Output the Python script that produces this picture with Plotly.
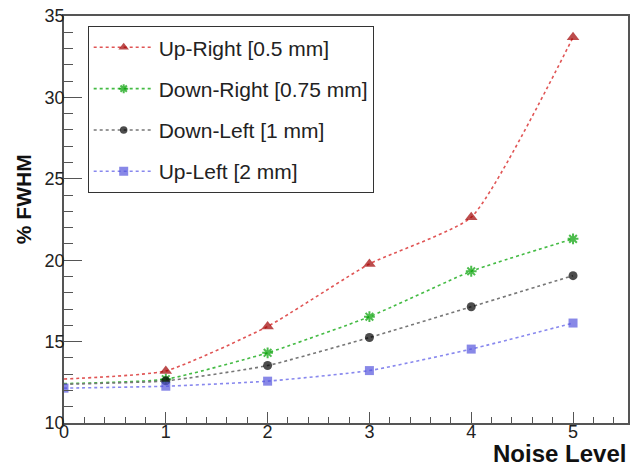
import plotly.graph_objects as go

# Noise level on the x axis
noise = [0, 1, 2, 3, 4, 5]

# % FWHM for each detector quadrant / pitch
up_right = [12.7, 13.2, 15.93, 19.77, 22.64, 33.69]
down_right = [12.42, 12.69, 14.31, 16.53, 19.32, 21.31]
down_left = [12.38, 12.59, 13.53, 15.25, 17.14, 19.05]
up_left = [12.14, 12.26, 12.57, 13.22, 14.54, 16.14]

names = ["Up-Right [0.5 mm]", "Down-Right [0.75 mm]", "Down-Left [1 mm]", "Up-Left [2 mm]"]

series = [
    dict(y=up_right, name=names[0], line="#e05555", marker="#a00000",
         symbol="triangle-up", size=[0, 11, 11, 11, 11, 11]),
    dict(y=down_right, name=names[1], line="#44bb44", marker="#00a000",
         symbol="asterisk-open", size=[0, 9, 9, 9, 9, 9]),
    dict(y=down_left, name=names[2], line="#777777", marker="#000000",
         symbol="circle", size=[0, 9, 9, 9, 9, 9]),
    dict(y=up_left, name=names[3], line="#8888ee", marker="#5555dd",
         symbol="square", size=[9, 9, 9, 9, 9, 9]),
]

fig = go.Figure()
for i, s in enumerate(series):
    fig.add_trace(go.Scatter(
        x=noise, y=s["y"], name=s["name"], mode="lines+markers",
        legendgroup=f"g{i}",
        line=dict(color=s["line"], width=1.6, dash="3px,3px", shape="spline", smoothing=0.5),
        marker=dict(color=s["marker"], symbol=s["symbol"], size=s["size"],
                    line=dict(color=s["marker"], width=2 if s["symbol"] == "asterisk-open" else 0)),
    ))

axis_col = "#555555"
font_fam = "Liberation Sans, Arial, sans-serif"

fig.update_layout(
    width=631, height=463,
    margin=dict(l=64, r=1, t=16, b=40),
    paper_bgcolor="white", plot_bgcolor="white",
    font=dict(family=font_fam, size=18, color="#222222"),
    showlegend=True,
    legend=dict(
        x=0.042, y=0.975, xanchor="left", yanchor="top",
        bordercolor="#333333", borderwidth=1, bgcolor="white",
        font=dict(size=21, color="#222222"),
        tracegroupgap=11, itemwidth=60,
    ),
    xaxis=dict(
        range=[0, 5.54], tickmode="array", tickvals=[0, 1, 2, 3, 4, 5],
        ticks="inside", ticklen=11, tickwidth=1.3, tickcolor=axis_col,
        minor=dict(dtick=0.2, ticks="inside", ticklen=6, tickwidth=1.3, tickcolor=axis_col, showgrid=False),
        showline=True, linecolor=axis_col, linewidth=1.5, mirror=True,
        showgrid=False, zeroline=False, tickfont=dict(size=18),
        ticklabelstandoff=-8,
    ),
    yaxis=dict(
        range=[10, 35], tickmode="array", tickvals=[10, 15, 20, 25, 30, 35],
        ticks="inside", ticklen=18, tickwidth=1.3, tickcolor=axis_col,
        minor=dict(dtick=1, ticks="inside", ticklen=9, tickwidth=1.3, tickcolor=axis_col, showgrid=False),
        showline=True, linecolor=axis_col, linewidth=1.5, mirror=True,
        showgrid=False, zeroline=False, tickfont=dict(size=18),
        ticklabelstandoff=-6,
    ),
    annotations=[
        dict(text="<b>Noise Level</b>", xref="paper", yref="paper", x=1.0, y=0,
             xanchor="right", yanchor="middle", xshift=0, yshift=-30, showarrow=False,
             font=dict(size=24, color="#111111")),
        dict(text="<b>% FWHM</b>", xref="paper", yref="paper", x=0, y=0.55,
             xanchor="center", yanchor="middle", xshift=-41, textangle=-90, showarrow=False,
             font=dict(size=21, color="#111111")),
    ],
)

fig.write_html("out.html")
